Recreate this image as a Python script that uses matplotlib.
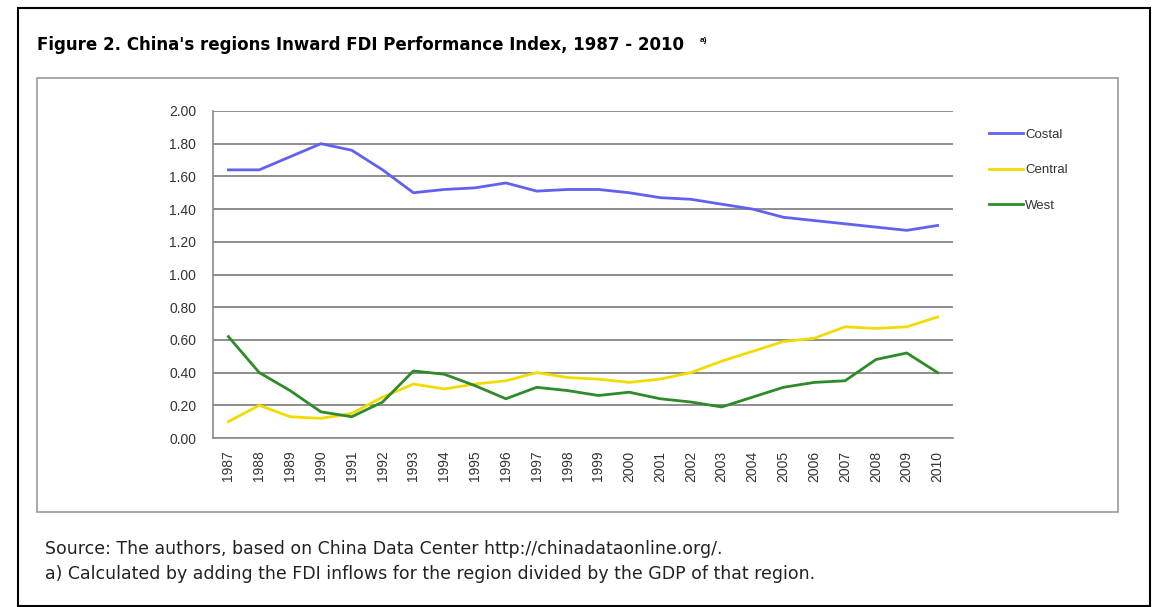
import matplotlib
matplotlib.use("Agg")
import matplotlib.pyplot as plt
from matplotlib.patches import Rectangle

plt.rcParams['font.family'] = ['Liberation Sans', 'DejaVu Sans']

years = [str(y) for y in range(1987, 2011)]
costal = [1.64, 1.64, 1.72, 1.80, 1.76, 1.64, 1.50, 1.52, 1.53, 1.56, 1.51, 1.52,
          1.52, 1.50, 1.47, 1.46, 1.43, 1.40, 1.35, 1.33, 1.31, 1.29, 1.27, 1.30]
central = [0.10, 0.20, 0.13, 0.12, 0.15, 0.25, 0.33, 0.30, 0.33, 0.35, 0.40, 0.37,
           0.36, 0.34, 0.36, 0.40, 0.47, 0.53, 0.59, 0.61, 0.68, 0.67, 0.68, 0.74]
west = [0.62, 0.40, 0.29, 0.16, 0.13, 0.22, 0.41, 0.39, 0.32, 0.24, 0.31, 0.29,
        0.26, 0.28, 0.24, 0.22, 0.19, 0.25, 0.31, 0.34, 0.35, 0.48, 0.52, 0.40]
yticks = [0.0, 0.2, 0.4, 0.6, 0.8, 1.0, 1.2, 1.4, 1.6, 1.8, 2.0]

W, H = 1156, 607
fig = plt.figure(figsize=(W / 100, H / 100), dpi=100)
fig.patch.set_facecolor("white")

def fx(px):
    return px / W

def fy(py):
    return 1 - py / H

# outer frame (black) and chart box (grey)
fig.patches.append(Rectangle((fx(18), fy(606)), fx(1150) - fx(18), fy(8) - fy(606),
                             transform=fig.transFigure, fill=False,
                             edgecolor="black", linewidth=1.5))
fig.patches.append(Rectangle((fx(37), fy(512)), fx(1118) - fx(37), fy(78) - fy(512),
                             transform=fig.transFigure, fill=False,
                             edgecolor="#9a9a9a", linewidth=1.2))

ax = fig.add_axes([fx(213), fy(438), fx(953) - fx(213), fy(111) - fy(438)])
x = range(len(years))
ax.plot(x, costal, color="#6161f0", lw=2, label="Costal")
ax.plot(x, central, color="#f2dc00", lw=2, label="Central")
ax.plot(x, west, color="#2f8a2a", lw=2, label="West")

ax.set_xlim(-0.5, len(years) - 0.5)
ax.set_ylim(0, 2.0)
ax.set_yticks(yticks)
ax.set_yticklabels([f"{v:.2f}" for v in yticks], fontsize=10, color="#333333")
ax.set_xticks(list(x))
ax.set_xticklabels(years, rotation=90, fontsize=10, color="#333333")
ax.tick_params(axis="y", length=0, pad=12)
ax.tick_params(axis="x", length=0, pad=9)
ax.grid(axis="y", color="#7a7a7a", lw=1.2)
ax.set_axisbelow(True)
for s in ["top", "right"]:
    ax.spines[s].set_visible(False)
for s in ["left", "bottom"]:
    ax.spines[s].set_color("#8a8a8a")
    ax.spines[s].set_linewidth(1.2)

fig.legend(loc="upper left", bbox_to_anchor=(fx(977), fy(117)),
           frameon=False, fontsize=9.5, handlelength=2.6, handletextpad=0.15,
           labelspacing=1.75, labelcolor="#333333")

fig.text(fx(37), fy(45), "Figure 2. China's regions Inward FDI Performance Index, 1987 - 2010",
         fontsize=12, fontweight="bold", va="center", ha="left", family="DejaVu Sans")
fig.text(fx(700), fy(40), "a)", fontsize=6, fontweight="bold", va="center", ha="left")

fig.text(fx(45), fy(549), "Source: The authors, based on China Data Center http://chinadataonline.org/.",
         fontsize=12.5, va="center", ha="left", color="#222222", family="DejaVu Sans")
fig.text(fx(45), fy(574), "a) Calculated by adding the FDI inflows for the region divided by the GDP of that region.",
         fontsize=12.5, va="center", ha="left", color="#222222", family="DejaVu Sans")

fig.savefig("out.png", dpi=100)
